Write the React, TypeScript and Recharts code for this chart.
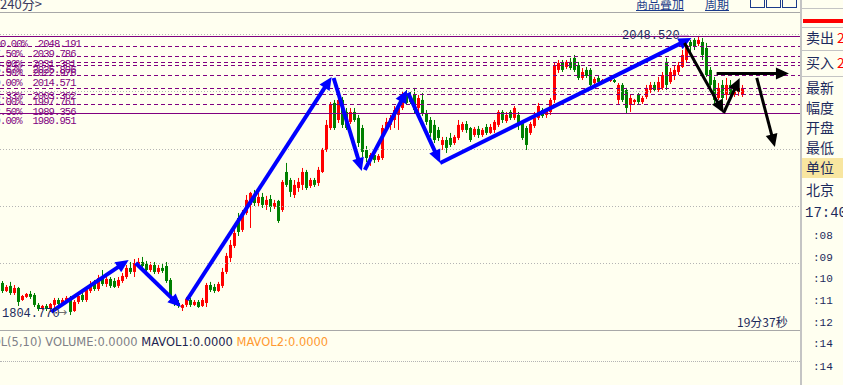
import { Bar, ComposedChart, ReferenceLine, XAxis, YAxis } from "recharts"

// candles: [open, high, low, close]
const ohlc: [number, number, number, number][] = [
  [1832.8, 1834.5, 1824.0, 1825.8], [1825.8, 1831.0, 1824.9, 1829.3], [1830.2, 1833.7, 1822.3, 1824.0], [1824.0, 1831.0, 1822.3, 1828.4],
  [1828.4, 1829.3, 1812.7, 1816.2], [1817.9, 1822.3, 1817.1, 1821.4], [1820.6, 1824.0, 1819.7, 1823.2], [1823.2, 1825.8, 1818.8, 1820.6],
  [1822.3, 1824.0, 1811.8, 1813.6], [1813.6, 1815.3, 1808.3, 1810.1], [1810.1, 1813.6, 1809.2, 1812.7], [1812.7, 1814.4, 1808.3, 1810.1],
  [1810.1, 1815.3, 1807.5, 1814.4], [1813.6, 1819.7, 1811.0, 1817.9], [1817.9, 1819.7, 1812.7, 1814.4], [1814.4, 1819.7, 1812.7, 1817.9],
  [1817.1, 1821.4, 1815.3, 1819.7], [1819.7, 1821.4, 1804.77, 1807.5], [1808.3, 1817.9, 1807.5, 1816.2], [1816.2, 1824.9, 1814.4, 1821.4],
  [1822.3, 1824.9, 1816.2, 1817.9], [1817.9, 1829.3, 1816.2, 1826.7], [1825.8, 1834.5, 1824.0, 1831.9], [1831.9, 1835.4, 1825.8, 1827.5],
  [1827.5, 1839.8, 1825.8, 1837.1], [1838.0, 1844.1, 1830.2, 1831.9], [1831.9, 1838.9, 1829.3, 1836.3], [1836.3, 1838.0, 1828.4, 1830.2],
  [1834.5, 1837.1, 1828.4, 1829.3], [1830.2, 1838.0, 1828.4, 1835.4], [1834.5, 1841.5, 1832.8, 1838.9], [1838.0, 1848.5, 1836.3, 1845.9],
  [1845.9, 1851.1, 1840.6, 1842.4], [1842.4, 1853.7, 1838.0, 1850.2], [1849.4, 1854.6, 1847.6, 1851.1], [1851.1, 1855.5, 1845.9, 1847.6],
  [1849.4, 1852.0, 1842.4, 1844.1], [1844.1, 1851.1, 1842.4, 1848.5], [1848.5, 1851.1, 1840.6, 1842.4], [1842.4, 1848.5, 1840.6, 1845.9],
  [1845.9, 1849.4, 1841.5, 1843.3], [1847.6, 1851.1, 1832.8, 1834.5], [1835.4, 1837.1, 1817.9, 1819.7], [1819.7, 1821.4, 1812.7, 1814.4],
  [1815.3, 1817.9, 1811.0, 1812.7], [1811.0, 1814.4, 1808.3, 1813.6], [1813.6, 1820.6, 1811.8, 1818.8], [1817.9, 1819.7, 1811.8, 1813.6],
  [1813.6, 1817.9, 1812.7, 1816.2], [1816.2, 1817.9, 1811.0, 1811.8], [1812.7, 1819.7, 1811.8, 1817.9], [1815.3, 1832.8, 1811.8, 1831.0],
  [1831.0, 1833.7, 1824.9, 1826.7], [1829.3, 1831.9, 1824.0, 1825.8], [1825.8, 1833.7, 1824.9, 1831.9], [1830.2, 1845.9, 1828.4, 1842.4],
  [1842.4, 1859.0, 1840.6, 1856.4], [1854.6, 1870.3, 1851.1, 1866.0], [1865.1, 1879.1, 1863.3, 1876.4], [1889.5, 1893.9, 1873.8, 1877.3],
  [1879.1, 1896.5, 1877.3, 1892.2], [1893.9, 1909.6, 1892.2, 1905.3], [1900.9, 1912.3, 1880.8, 1911.4], [1908.8, 1914.0, 1900.0, 1902.6],
  [1902.6, 1911.4, 1900.0, 1907.9], [1907.9, 1911.4, 1898.3, 1900.9], [1900.9, 1908.8, 1896.5, 1905.3], [1906.1, 1909.6, 1894.8, 1899.2],
  [1899.2, 1905.3, 1897.4, 1902.6], [1904.4, 1905.3, 1885.2, 1886.9], [1896.5, 1922.7, 1894.8, 1921.0], [1929.7, 1937.6, 1916.6, 1918.4],
  [1922.7, 1924.5, 1907.9, 1912.3], [1909.6, 1922.7, 1907.0, 1918.4], [1915.7, 1924.5, 1912.3, 1921.0], [1918.4, 1933.2, 1914.0, 1929.7],
  [1929.7, 1931.5, 1914.0, 1915.7], [1917.5, 1924.5, 1915.7, 1922.7], [1922.7, 1924.5, 1916.6, 1918.4], [1920.1, 1934.1, 1917.5, 1931.5],
  [1929.7, 1950.7, 1928.8, 1948.9], [1948.9, 1975.1, 1947.2, 1970.8], [1968.1, 1990.8, 1966.4, 1989.1], [1990.0, 1992.6, 1966.4, 1968.1],
  [1975.1, 1996.1, 1972.5, 1992.6], [1992.6, 1995.2, 1968.1, 1970.8], [1982.1, 1985.6, 1966.4, 1968.1], [1973.4, 1985.6, 1971.6, 1982.1],
  [1982.1, 1985.6, 1973.4, 1975.1], [1976.9, 1979.5, 1951.5, 1955.0], [1968.1, 1970.8, 1942.8, 1947.2], [1948.9, 1952.4, 1938.4, 1941.9],
  [1940.2, 1946.3, 1935.0, 1944.5], [1944.5, 1946.3, 1937.6, 1940.2], [1940.2, 1945.4, 1938.4, 1943.7], [1941.9, 1970.8, 1940.2, 1968.1],
  [1966.4, 1976.9, 1964.6, 1973.4], [1970.8, 1979.5, 1966.4, 1976.9], [1975.1, 1987.3, 1968.1, 1983.8], [1979.5, 1988.2, 1966.4, 1985.6],
  [1985.6, 1999.6, 1983.8, 1994.3], [1997.0, 2001.3, 1988.2, 1990.0], [1994.3, 1999.6, 1989.1, 1990.8], [1997.0, 2003.1, 1981.2, 1983.8],
  [1985.6, 1997.0, 1982.1, 1994.3], [1992.6, 1998.7, 1978.6, 1981.2], [1981.2, 1983.8, 1970.8, 1973.4], [1975.1, 1977.7, 1960.3, 1963.8],
  [1970.8, 1975.1, 1955.0, 1957.6], [1966.4, 1969.0, 1956.8, 1959.4], [1953.3, 1960.3, 1948.9, 1957.6], [1957.6, 1960.3, 1946.3, 1950.7],
  [1959.4, 1963.8, 1951.5, 1953.3], [1955.0, 1962.0, 1953.3, 1960.3], [1959.4, 1975.1, 1957.6, 1970.8], [1966.4, 1973.4, 1964.6, 1971.6],
  [1971.6, 1974.2, 1963.8, 1966.4], [1968.1, 1969.0, 1955.9, 1957.6], [1962.0, 1969.0, 1960.3, 1967.3], [1967.3, 1969.9, 1959.4, 1962.0],
  [1962.0, 1968.1, 1960.3, 1966.4], [1969.0, 1971.6, 1962.0, 1963.8], [1963.8, 1971.6, 1962.9, 1969.0], [1966.4, 1975.1, 1963.8, 1973.4],
  [1970.8, 1983.8, 1969.0, 1982.1], [1982.1, 1983.8, 1972.5, 1975.1], [1974.2, 1982.1, 1972.5, 1979.5], [1982.1, 1983.8, 1975.1, 1976.9],
  [1976.9, 1987.3, 1975.1, 1985.6], [1979.5, 1982.1, 1966.4, 1970.8], [1973.4, 1975.1, 1957.6, 1959.4], [1968.1, 1969.9, 1948.9, 1953.3],
  [1963.8, 1973.4, 1962.0, 1971.6], [1969.9, 1982.1, 1968.1, 1976.9], [1976.9, 1990.0, 1975.1, 1987.3], [1983.8, 1985.6, 1976.9, 1978.6],
  [1979.5, 1985.6, 1976.9, 1983.8], [1982.1, 1994.3, 1979.5, 1992.6], [1992.6, 2024.9, 1990.0, 2023.1], [2018.8, 2027.5, 2016.2, 2024.9],
  [2024.9, 2027.5, 2017.0, 2018.8], [2021.4, 2027.5, 2019.6, 2025.8], [2025.8, 2029.3, 2018.8, 2020.5], [2029.3, 2031.9, 2017.0, 2018.8],
  [2023.1, 2025.8, 2010.0, 2011.8], [2011.8, 2020.5, 2010.0, 2017.0], [2018.8, 2021.4, 2011.8, 2013.5], [2018.8, 2020.5, 2003.9, 2005.7],
  [2007.4, 2012.7, 2005.7, 2010.9], [2011.8, 2013.5, 2007.4, 2008.3], [2008.3, 2010.9, 2007.4, 2010.0], [2010.0, 2010.0, 2008.3, 2009.2],
  [2009.2, 2010.9, 2008.3, 2010.0], [2010.0, 2010.9, 2007.4, 2008.3], [1992.6, 2007.4, 1989.1, 2005.7], [2005.7, 2007.4, 1990.8, 1992.6],
  [2001.3, 2003.1, 1981.2, 1985.6], [1988.2, 1997.0, 1982.1, 1994.3], [1990.8, 1993.5, 1988.2, 1992.6], [1997.0, 1998.7, 1989.1, 1990.8],
  [1990.8, 1996.1, 1989.1, 1994.3], [1995.2, 2005.7, 1993.5, 2003.1], [2001.3, 2008.3, 1998.7, 2005.7], [2005.7, 2008.3, 1999.6, 2001.3],
  [2001.3, 2012.7, 1999.6, 2008.3], [2003.1, 2017.0, 2001.3, 2014.4], [2025.8, 2029.3, 2001.3, 2005.7], [2008.3, 2020.5, 2006.6, 2017.0],
  [2013.5, 2022.3, 2010.0, 2018.8], [2017.0, 2025.8, 2014.4, 2023.1], [2021.4, 2036.2, 2020.5, 2031.9], [2027.5, 2045.0, 2024.9, 2040.6],
  [2043.2, 2045.0, 2033.6, 2039.7], [2045.0, 2046.7, 2036.2, 2038.9], [2041.5, 2048.52, 2039.7, 2045.0], [2043.2, 2046.7, 2027.5, 2031.9],
  [2038.0, 2042.4, 2012.7, 2014.4], [2018.8, 2021.4, 2001.3, 2005.7], [2010.0, 2012.7, 1989.1, 1992.6], [1994.3, 2007.4, 1992.6, 2003.1],
  [2005.7, 2010.0, 1982.1, 1994.3], [1997.0, 2011.8, 1992.6, 2005.7], [2005.7, 2010.0, 1994.3, 1997.0], [1997.0, 2006.6, 1995.2, 2003.1],
  [1999.6, 2004.8, 1996.1, 2003.1], [1997.0, 2005.7, 1995.2, 2003.1],
]

const slotCount = 200

const fibPrices = [2048.191, 2039.786, 2031.381, 2025.806, 2022.976, 2014.571, 2003.362, 1997.761, 1989.356, 1980.951]
const fibPercents = ["100.00%", "87.50%", "75.00%", "66.67%", "62.50%", "50.00%", "33.33%", "25.00%", "12.50%", " 0.00%"]

const gridPrices = [2050, 2000, 1950, 1900, 1850]

// hand drawn trend arrows: [fromIndex, fromPrice, toIndex, toPrice]
const blueArrows = [
  [12.75, 1807.5, 32, 1852.9],
  [33.75, 1850.2, 45, 1811.8],
  [46.5, 1817.9, 82.5, 2012.7],
  [83, 2011.8, 90, 1930.6],
  [90.75, 1931.5, 101.25, 2001.3],
  [101.5, 1998.7, 109.5, 1937.6],
  [109.5, 1937.6, 172, 2046.7],
]
const blackArrows = [
  [170.25, 2042.4, 180, 1981.2],
  [180, 1981.2, 184, 2011.8],
  [178.25, 2015.8, 196.25, 2015.8],
  [188.25, 2011.8, 192.75, 1951.5],
]

const highLabel = "2048.520"
const lowLabel = "1804.770"

const sideLabels = ["卖出", "买入", "最新", "幅度", "开盘", "最低", "单位", "北京"]
const sideTimes = ["17:40", ":08", ":09", ":10", ":11", ":12", ":14", ":14"]

const rows = Array.from({ length: slotCount }, (_, i) => {
  const k = ohlc[i]
  return { i, k: k ?? null, hl: k ? [k[2], k[1]] : null }
})

const navy = "#1c2a5c"

function Candle(props: any) {
  const { x, y, width, height, payload } = props
  if (!payload || !payload.k) return null
  const [o, h, l, c] = payload.k
  const top = height < 0 ? y + height : y
  const hh = Math.abs(height)
  const cx = Math.floor(x + width / 2)
  const ratio = h - l > 0 ? hh / (h - l) : 0
  const yo = top + (h - o) * ratio
  const yc = top + (h - c) * ratio
  const color = c >= o ? "#ff0000" : "#008000"
  const bodyTop = Math.min(yo, yc)
  const bodyH = Math.max(1, Math.abs(yc - yo))
  return (
    <g>
      <rect x={cx} y={top} width={1} height={Math.max(1, hh)} fill={color} />
      <rect x={cx - 1} y={bodyTop} width={3} height={bodyH} fill={color} />
    </g>
  )
}

const arrowShape = (color: string, w: number) => (p: any) => {
  const { x1, y1, x2, y2 } = p
  const dx = x2 - x1
  const dy = y2 - y1
  const len = Math.hypot(dx, dy) || 1
  const ux = dx / len
  const uy = dy / len
  const hl = 13
  const hw = 6
  const bx = x2 - ux * hl
  const by = y2 - uy * hl
  const pts = `${x2},${y2} ${bx - uy * hw},${by + ux * hw} ${bx + uy * hw},${by - ux * hw}`
  return (
    <g>
      <line x1={x1} y1={y1} x2={bx + ux * 2} y2={by + uy * 2} stroke={color} strokeWidth={w} />
      <polygon points={pts} fill={color} />
    </g>
  )
}

const fibShape = (idx: number) => (p: any) => {
  const { x1, y1, x2, y2 } = p
  const solid = idx === 0 || idx === fibPrices.length - 1
  const yy = Math.round(y1) + 0.5
  return (
    <g>
      <line x1={x1} y1={yy} x2={x2} y2={Math.round(y2) + 0.5} stroke="#800080" strokeWidth={1} strokeDasharray={solid ? undefined : "4 3"} />
      <text x={-10.8} y={yy + 10.5} fill="#800080" fontSize={10.5} letterSpacing={-0.9} fontFamily="Liberation Mono, monospace" xmlSpace="preserve">
        {`${fibPercents[idx]}  ${fibPrices[idx].toFixed(3)}`}
      </text>
    </g>
  )
}

const gridShape = (p: any) => (
  <line x1={p.x1} y1={Math.round(p.y1) + 0.5} x2={p.x2} y2={Math.round(p.y2) + 0.5} stroke="#b4b4b4" strokeWidth={1} strokeDasharray="1 2" />
)

const abs = (left: number, top: number, extra: any = {}) => ({ position: "absolute" as const, left, top, whiteSpace: "nowrap" as const, ...extra })

export default function App() {
  return (
    <div style={{ position: "relative", width: 843, height: 385, background: "#fffff0", overflow: "hidden", fontFamily: "Noto Sans CJK SC, sans-serif" }}>
      <style>{"body{margin:0}"}</style>
      <div style={abs(0, 0)}>
        <ComposedChart width={800} height={385} data={rows} margin={{ top: 12, right: 0, bottom: 55, left: 0 }}>
          <XAxis dataKey="i" hide />
          <XAxis xAxisId="n" type="number" domain={[-0.5, slotCount - 0.5]} allowDataOverflow hide />
          <YAxis type="number" domain={[1791.7, 2069.4]} allowDataOverflow hide />
          {gridPrices.map((g) => (
            <ReferenceLine key={`g${g}`} y={g} shape={gridShape} />
          ))}
          <Bar dataKey="hl" barSize={3} shape={<Candle />} isAnimationActive={false} />
          {fibPrices.map((f, idx) => (
            <ReferenceLine key={`f${idx}`} y={f} shape={fibShape(idx)} />
          ))}
          {blueArrows.map((a, idx) => (
            <ReferenceLine key={`b${idx}`} xAxisId="n" segment={[{ x: a[0], y: a[1] }, { x: a[2], y: a[3] }]} shape={arrowShape("#0000ff", 4)} />
          ))}
          {blackArrows.map((a, idx) => (
            <ReferenceLine key={`k${idx}`} xAxisId="n" segment={[{ x: a[0], y: a[1] }, { x: a[2], y: a[3] }]} shape={arrowShape("#000000", 3)} />
          ))}
        </ComposedChart>
      </div>

      {/* header strip */}
      <div style={abs(0, -6, { fontSize: 13, color: "#3a3a60" })}>240分&gt;</div>
      <div style={abs(0, 12, { width: 800, height: 1, background: "#a8a8a8" })} />
      <div style={abs(636, -5, { fontSize: 12, color: "#1a3a8a", textDecoration: "underline" })}>商品叠加</div>
      <div style={abs(705, -5, { fontSize: 12, color: "#1a3a8a", textDecoration: "underline" })}>周期</div>
      {[750, 766, 782].map((x) => (
        <div key={x} style={abs(x, -6, { width: 13, height: 12, border: "1px solid #1a3a8a" })} />
      ))}

      {/* price labels */}
      <div style={abs(622, 29, { fontSize: 12, fontFamily: "Liberation Mono, monospace", color: navy })}>{highLabel}</div>
      <div style={abs(677, 35, { width: 12, height: 1, background: "#e0b0e0" })} />
      <div style={abs(2, 307, { fontSize: 12, fontFamily: "Liberation Mono, monospace", color: navy })}>{lowLabel}</div>
      <div style={abs(57, 305, { fontSize: 12, fontFamily: "DejaVu Sans, sans-serif", color: "#707070" })}>→</div>
      <div style={abs(737, 313, { fontSize: 12, color: navy })}>19分37秒</div>

      {/* volume panel */}
      <div style={abs(0, 330, { width: 800, height: 1, background: "#a8a8a8" })} />
      <div style={abs(-16, 335, { fontSize: 11.5, fontFamily: "DejaVu Sans, sans-serif" })}>
        <span style={{ color: "#808088" }}>VOL(5,10) VOLUME:0.0000 </span>
        <span style={{ color: "#1c2450" }}>MAVOL1:0.0000 </span>
        <span style={{ color: "#ff9a30" }}>MAVOL2:0.0000</span>
      </div>
      <div style={abs(0, 361, { width: 800, height: 0, borderTop: "1px dotted #b4b4b4" })} />

      {/* right info panel */}
      <div style={abs(800, 0, { width: 2, height: 385, background: "#c4c4c4" })} />
      <div style={abs(802, 8, { width: 41, height: 1, background: "#c4c4c4" })} />
      <div style={abs(803, 19, { width: 40, height: 4, background: "#ff0000" })} />
      {[27, 50, 76].map((y) => (
        <div key={y} style={abs(802, y, { width: 41, height: 1, background: "#c4c4c4" })} />
      ))}
      <div style={abs(802, 158, { width: 41, height: 20, background: "#f8e6a0" })} />
      {sideLabels.map((t, idx) => {
        const centers = [38, 63, 88, 108, 128, 148, 168, 190]
        return (
          <div key={t} style={abs(806, centers[idx] - 9, { fontSize: 14, lineHeight: "16px", color: navy })}>{t}</div>
        )
      })}
      <div style={abs(837, 29, { fontSize: 14, lineHeight: "16px", color: "#ff0000" })}>2</div>
      <div style={abs(837, 54, { fontSize: 14, lineHeight: "16px", color: "#ff0000" })}>2</div>
      {sideTimes.map((t, idx) => {
        const centers = [213, 236, 258, 279, 301, 323, 344, 367]
        return (
          <div
            key={idx}
            style={abs(idx === 0 ? 805 : 813, centers[idx] - 7, {
              fontSize: idx === 0 ? 14 : 11,
              lineHeight: "14px",
              fontFamily: "Liberation Mono, monospace",
              color: navy,
            })}
          >
            {t}
          </div>
        )
      })}
    </div>
  )
}
